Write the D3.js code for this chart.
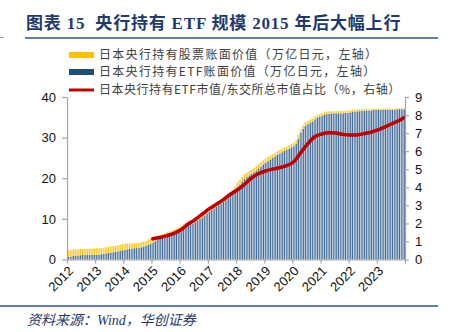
<!DOCTYPE html>
<html><head><meta charset="utf-8">
<script src="https://cdn.jsdelivr.net/npm/d3@7"></script>
<style>
html,body{margin:0;padding:0;background:#fff;}
svg{display:block;}
</style></head>
<body>
<svg id="c" width="452" height="332"></svg>
<script>
// ---------- DATA ----------
const years = [2012,2013,2014,2015,2016,2017,2018,2019,2020,2021,2022,2023];
const yearLabels = ["2012","2013","2014","2015","2016","2017","2018","2019","2020","2021","2022","2023"];
const leftTicks = [0,10,20,30,40];
const rightTicks = [0,1,2,3,4,5,6,7,8,9];

// ETF book value (trillion yen), monthly Jan 2012 .. Dec 2023
const etfBook = [
 0.6,0.7,0.9,1.0,1.0,1.05,1.1,1.1,1.1,1.15,1.15,1.2,
 1.2,1.25,1.3,1.4,1.5,1.6,1.7,1.8,1.9,2.0,2.1,2.3,
 2.4,2.5,2.6,2.7,2.8,2.8,2.9,3.0,3.2,3.4,3.7,3.9,
 4.2,4.5,4.8,5.1,5.3,5.5,5.8,6.0,6.2,6.4,6.7,7.0,
 7.4,7.8,8.1,8.4,8.7,8.9,9.2,9.6,10.0,10.4,10.8,11.2,
 11.7,12.2,12.6,13.0,13.4,13.8,14.2,14.6,15.1,15.7,16.3,17.0,
 17.8,18.5,19.2,19.8,20.3,20.7,21.1,21.5,21.9,22.4,22.9,23.4,
 23.8,24.2,24.6,25.0,25.4,25.8,26.1,26.4,26.7,27.0,27.3,27.6,
 27.9,28.5,29.8,31.2,32.2,32.9,33.3,33.7,34.0,34.5,34.9,35.2,
 35.4,35.6,35.8,35.9,35.9,36.0,36.0,36.0,36.0,36.0,36.1,36.1,
 36.2,36.3,36.4,36.5,36.5,36.6,36.6,36.7,36.7,36.7,36.8,36.8,
 36.8,36.8,36.8,36.9,36.9,36.9,36.9,36.9,37.0,37.0,37.0,37.0
];
// Stocks book value (trillion yen), monthly Jan 2012 .. Dec 2023
const stockBook = [
 1.6,1.6,1.5,1.5,1.5,1.5,1.5,1.5,1.5,1.5,1.5,1.5,
 1.6,1.6,1.5,1.5,1.5,1.5,1.5,1.5,1.45,1.45,1.45,1.45,
 1.45,1.4,1.3,1.25,1.2,1.2,1.2,1.2,1.2,1.2,1.2,1.2,
 1.2,1.1,1.0,0.9,0.9,0.9,0.9,0.9,0.9,0.9,0.85,0.85,
 0.8,0.8,0.8,0.8,0.8,0.8,0.8,0.8,0.8,0.8,0.8,0.8,
 0.8,0.8,0.8,0.8,0.8,0.8,0.8,0.8,0.8,0.8,0.8,0.9,
 1.1,1.1,1.1,1.1,1.1,1.0,1.0,1.0,1.0,1.0,1.0,1.0,
 1.0,1.0,0.9,0.9,0.8,0.8,0.8,0.8,0.8,0.8,0.8,0.8,
 0.8,0.8,0.8,0.8,0.8,0.8,0.8,0.7,0.7,0.7,0.6,0.6,
 0.6,0.6,0.6,0.6,0.5,0.5,0.5,0.5,0.5,0.5,0.5,0.5,
 0.5,0.5,0.5,0.4,0.4,0.4,0.4,0.3,0.3,0.3,0.3,0.3,
 0.3,0.3,0.3,0.25,0.25,0.25,0.2,0.2,0.2,0.2,0.2,0.2
];
// ETF market value / TSE market cap (%), right axis
const ratioMonths = ["2015-01","2015-04","2015-07","2015-10","2016-01","2016-04","2016-07","2016-10",
 "2017-01","2017-04","2017-07","2017-10","2018-01","2018-04","2018-07","2018-10",
 "2019-01","2019-04","2019-07","2019-10","2020-01","2020-04","2020-07","2020-10",
 "2021-01","2021-04","2021-07","2021-10","2022-01","2022-04","2022-07","2022-10",
 "2023-01","2023-04","2023-07","2023-10","2023-12"];
const ratioValues = [1.15,1.22,1.32,1.45,1.65,1.95,2.2,2.5,
 2.8,3.05,3.3,3.6,3.85,4.15,4.5,4.75,
 4.9,5.0,5.08,5.2,5.4,5.9,6.4,6.8,
 6.95,7.02,7.0,6.93,6.9,6.9,6.97,7.05,
 7.18,7.35,7.52,7.7,7.85];

const legendLabels = ["日本央行持有股票账面价值（万亿日元，左轴）",
 "日本央行持有ETF账面价值（万亿日元，左轴）",
 "日本央行持有ETF市值/东交所总市值占比（%，右轴）"];
const titleText = "图表 15  央行持有 ETF 规模 2015 年后大幅上行";
const sourceText = "资料来源：Wind，华创证券";

// ---------- BUILD ----------
const months = [];
years.forEach(y => { for (let m = 1; m <= 12; m++) months.push(y + "-" + String(m).padStart(2, "0")); });
const rows = months.map((m, i) => ({ m, etf: etfBook[i], stock: stockBook[i] }));

const svg = d3.select("#c");
const L = 67, R = 405, T = 97, B = 259.5;

const x = d3.scaleBand().domain(months).range([L, R]).padding(0);
const yL = d3.scaleLinear().domain([0, 40]).range([B, T]);
const yR = d3.scaleLinear().domain([0, 9]).range([B, T]);
const bw = x.bandwidth();

// Title
svg.append("text").attr("x", 26).attr("y", 29)
  .attr("font-family", "'Liberation Serif','Noto Sans CJK SC',serif")
  .attr("font-weight", "bold").attr("font-size", 17).attr("letter-spacing", 0.8).attr("fill", "#1F3A6E")
  .attr("xml:space", "preserve").style("white-space", "pre")
  .text(titleText);
svg.append("line").attr("x1", 25).attr("x2", 438).attr("y1", 38).attr("y2", 38)
  .attr("stroke", "#2B579A").attr("stroke-width", 1.5);
svg.append("line").attr("x1", 0).attr("x2", 4).attr("y1", 37.5).attr("y2", 37.5)
  .attr("stroke", "#9AA4B4").attr("stroke-width", 1);

// Bars
const gb = svg.append("g");
const stackData = d3.stack().keys(["etf", "stock"])(rows);
const cols = { etf: ["#B3C5D8", "#2F5B8B"], stock: ["#FFE596", "#FFC000"] };
stackData.forEach(layer => {
  const c = cols[layer.key];
  gb.selectAll(null).data(layer).join("rect")
    .attr("x", d => x(d.data.m)).attr("width", bw)
    .attr("y", d => yL(d[1])).attr("height", d => yL(d[0]) - yL(d[1]))
    .attr("fill", c[0]);
  gb.selectAll(null).data(layer).join("rect")
    .attr("x", d => x(d.data.m) + bw * 0.5).attr("width", 0.85)
    .attr("y", d => yL(d[1])).attr("height", d => yL(d[0]) - yL(d[1]))
    .attr("fill", c[1]);
});

// Red line
const ratio = ratioMonths.map((m, i) => ({ m, v: ratioValues[i] }));
svg.append("path").datum(ratio)
  .attr("fill", "none").attr("stroke", "#C00000").attr("stroke-width", 3.5)
  .attr("stroke-linecap", "round")
  .attr("d", d3.line().x(d => x(d.m) + bw / 2).y(d => yR(d.v)).curve(d3.curveMonotoneX));

// Axes
const axisColor = "#A6A6A6";
const fontAx = "'Liberation Sans', Arial, sans-serif";
const gL = svg.append("g").attr("transform", `translate(${L},0)`)
  .call(d3.axisLeft(yL).tickValues(leftTicks).tickSize(5).tickPadding(6).tickSizeOuter(0));
const gR = svg.append("g").attr("transform", `translate(${R},0)`)
  .call(d3.axisRight(yR).tickValues(rightTicks).tickSize(4).tickPadding(6).tickSizeOuter(0));
const xYear = d3.scaleLinear().domain([2012, 2024]).range([L, R]);
const gX = svg.append("g").attr("transform", `translate(0,${B})`)
  .call(d3.axisBottom(xYear).tickValues(years.concat([2024])).tickSize(4).tickSizeOuter(0)
    .tickFormat(""));
[gL, gR, gX].forEach(g => {
  g.selectAll("path,line").attr("stroke", axisColor).attr("stroke-width", 1.2);
  g.selectAll("text").attr("font-family", fontAx).attr("font-size", 13).attr("fill", "#111");
});
// rotated year labels
const yl = svg.append("g").selectAll("g").data(years).join("g")
  .attr("transform", d => `translate(${xYear(d) + 4},${B + 9}) rotate(-45)`);
yl.append("text")
  .attr("x", 0).attr("y", 0)
  .attr("text-anchor", "end").attr("dy", "0.35em")
  .attr("font-family", fontAx).attr("font-size", 13).attr("fill", "#111")
  .text((d, i) => yearLabels[i]);

// Legend
const lg = svg.append("g");
const ly = [55, 72, 90];
lg.append("rect").attr("x", 69).attr("y", ly[0] - 3).attr("width", 25).attr("height", 6).attr("fill", "#FFC000");
lg.append("rect").attr("x", 69).attr("y", ly[1] - 3).attr("width", 25).attr("height", 6).attr("fill", "#1F4E79");
lg.append("line").attr("x1", 69).attr("x2", 94).attr("y1", ly[2]).attr("y2", ly[2]).attr("stroke", "#C00000").attr("stroke-width", 3);
const lsp = [1.3, 1.3, 0.5];
legendLabels.forEach((t, i) => {
  lg.append("text").attr("x", 99).attr("y", ly[i]).attr("dy", "0.36em")
    .attr("font-family", "'Noto Sans CJK SC', sans-serif").attr("font-size", 12)
    .attr("letter-spacing", lsp[i]).attr("fill", "#404040").text(t);
});

// Bottom rule and source
svg.append("line").attr("x1", 0).attr("x2", 438).attr("y1", 306).attr("y2", 306)
  .attr("stroke", "#2B579A").attr("stroke-width", 1.5);
svg.append("text").attr("x", 27).attr("y", 325)
  .attr("font-family", "'Liberation Serif','Noto Sans CJK SC',serif")
  .attr("font-style", "italic").attr("font-size", 14).attr("fill", "#1F3A6E")
  .text(sourceText);
</script>
</body></html>
